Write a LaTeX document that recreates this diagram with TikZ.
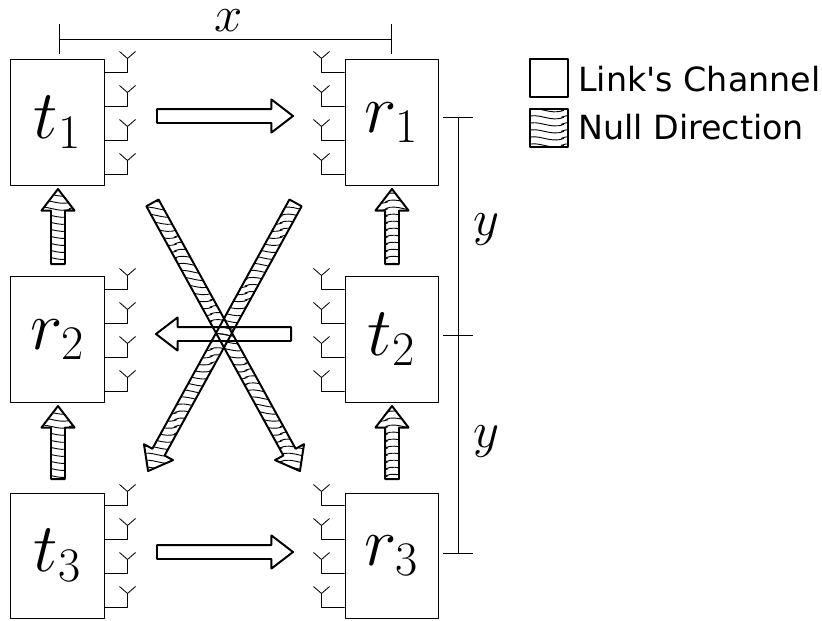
\documentclass[tikz,border=0pt]{standalone}
\usepackage{fix-cm}
\usepackage{fontspec}
\setmainfont{DejaVu Sans}
\usetikzlibrary{shapes.arrows,patterns}
\pgfdeclarepatternformonly{wavylines}{\pgfqpoint{-1pt}{-3pt}}{\pgfqpoint{26pt}{8pt}}{\pgfqpoint{25pt}{5pt}}{
  \pgfsetlinewidth{0.65pt}
  \pgfpathmoveto{\pgfqpoint{-1pt}{2.5pt}}
  \pgfpathcurveto{\pgfqpoint{8pt}{6.5pt}}{\pgfqpoint{16pt}{-1.5pt}}{\pgfqpoint{26pt}{2.5pt}}
  \pgfusepath{stroke}
}
\tikzset{
  radiobox/.style={draw, minimum width=2.325cm, minimum height=3.125cm, inner sep=0pt, line width=0.7pt, font=\fontsize{49}{49}\selectfont},
  blockarrow/.style={draw, single arrow, anchor=tail, minimum width=0.78cm, single arrow head extend=0.24cm, single arrow tip angle=75, inner xsep=0pt, inner ysep=0.15cm, line width=1.4pt},
  linkarrow/.style={blockarrow},
  nullarrow/.style={blockarrow, pattern=wavylines},
  thinline/.style={line width=0.6pt},
  legendbox/.style={draw, minimum size=0.95cm, inner sep=0pt, line width=1.4pt},
  legendtext/.style={anchor=base west, inner sep=0pt, font=\fontsize{23.7}{24}\selectfont},
  dimlabel/.style={inner sep=0pt, font=\fontsize{36}{36}\selectfont}
}
\begin{document}
\begin{tikzpicture}[x=0.025cm, y=-0.025cm, line join=round]
\useasboundingbox (0,0) rectangle (822,620);
\node[radiobox] (t1) at (57.5,122.5) {$t_1$};
\node[radiobox] (r2) at (57.5,339.5) {$r_2$};
\node[radiobox] (t3) at (57.5,555.5) {$t_3$};
\node[radiobox] (r1) at (391.5,122.5) {$r_1$};
\node[radiobox] (t2) at (391.5,339.5) {$t_2$};
\node[radiobox] (r3) at (391.5,555.5) {$r_3$};
\foreach \n/\s in {t1.north east/1, r2.north east/1, t3.north east/1, r1.north west/-1, t2.north west/-1, r3.north west/-1}
  \foreach \h in {13,47,81,115}
    \draw[thinline] (\n) ++(0,\h) -- ++(23*\s,0) -- ++(0,-14) -- ++(-8,-7) ++(8,7) -- ++(8,-7);
\node[linkarrow, minimum height=3.4cm] (a1) at (156,116) {};
\node[linkarrow, minimum height=3.4cm] (a3) at (156,552) {};
\node[nullarrow, minimum height=7.65cm, rotate=-61.2] (d1) at (152,202) {};
\node[nullarrow, minimum height=7.65cm, rotate=-118.8] (d2) at (296,202) {};
\node[linkarrow, minimum height=3.375cm, rotate=180] (a2) at (292,334) {};
\node[nullarrow, minimum height=1.875cm, rotate=90] (v1) at (58,265) {};
\node[nullarrow, minimum height=1.825cm, rotate=90] (v2) at (58,480) {};
\node[nullarrow, minimum height=1.875cm, rotate=90] (v3) at (392,265) {};
\node[nullarrow, minimum height=1.825cm, rotate=90] (v4) at (392,480) {};
\coordinate (xa) at (59,39);
\coordinate (xb) at (391,39);
\coordinate (ya) at (458,117);
\coordinate (ym) at (458,335);
\coordinate (yb) at (458,553);
\draw[thinline] (xa) -- (xb);
\draw[thinline] (ya) -- (yb);
\foreach \c in {xa,xb}\draw[thinline] (\c) ++(0,-15) -- ++(0,30);
\foreach \c in {ya,ym,yb}\draw[thinline] (\c) ++(-15,0) -- ++(30,0);
\node[dimlabel] (xl) at (229,21) {$x$};
\node[dimlabel] (yl1) at (486,230) {$y$};
\node[dimlabel] (yl2) at (486,442) {$y$};
\node[legendbox] (lg1) at (549,78) {};
\node[legendbox, pattern=wavylines] (lg2) at (549,128) {};
\node[legendtext] (lt1) at (578,91) {Link\textquotesingle s Channel};
\node[legendtext] (lt2) at (578,139) {Null Direction};
\end{tikzpicture}
\end{document}
